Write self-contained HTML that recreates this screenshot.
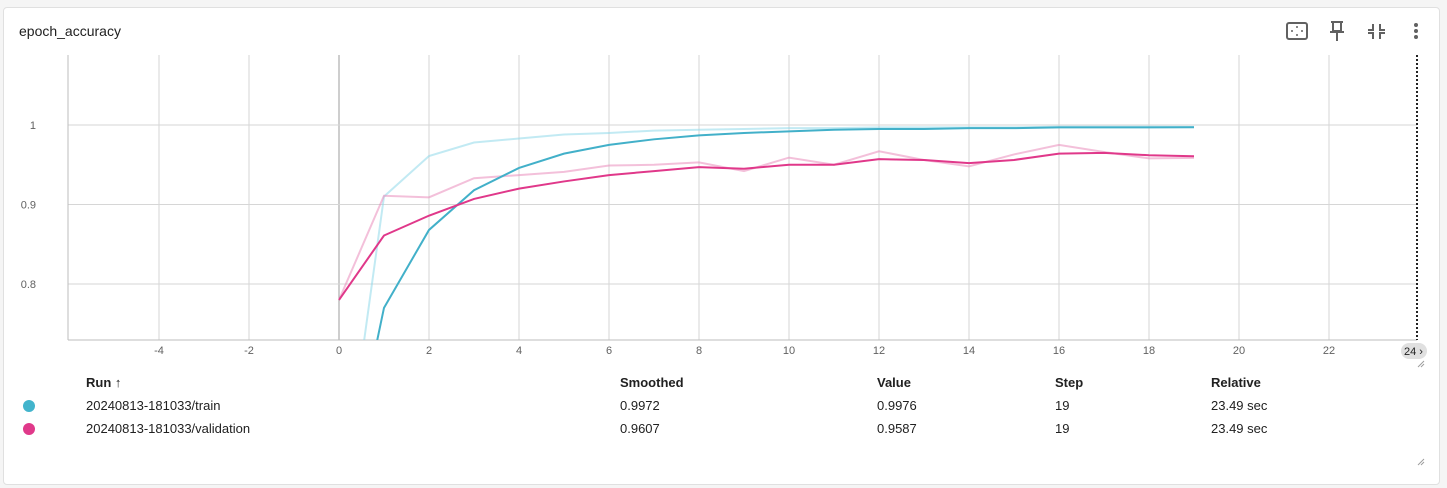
<!DOCTYPE html>
<html style="overflow:hidden"><head><meta charset="utf-8"><style>
*{box-sizing:border-box}
html,body{margin:0;width:1447px;height:488px;overflow:hidden}
body{background:#f5f5f5;font-family:"Liberation Sans",sans-serif;position:relative}
.card{position:absolute;left:3px;top:7px;width:1437px;height:478px;background:#fff;border:1px solid #e0e0e0;border-radius:4px}
.t{position:absolute;font-size:13px;color:#212121}
.h{font-weight:bold}
</style></head><body>
<div class="card"></div>
<div class="t" style="left:19px;top:23px;font-size:14px">epoch_accuracy</div>
<svg style="position:absolute;left:0;top:0" width="1447" height="488">
<g><rect x="1287" y="23" width="20" height="16" rx="2" fill="none" stroke="#616161" stroke-width="2"/><path d="M1297 26v2M1297 34v2M1291 31h2M1301 31h2" stroke="#616161" stroke-width="1.5"/></g>
<g><path d="M1331 22h12M1333 22v9h8v-9M1330 32h14M1337 32v9" stroke="#616161" stroke-width="2" fill="none"/></g>
<g><path d="M1373 24v6h-5M1380 24v6h5M1373 39v-6h-5M1380 39v-6h5" stroke="#616161" stroke-width="2" fill="none"/></g>
<g fill="#616161"><circle cx="1416" cy="25" r="2"/><circle cx="1416" cy="31" r="2"/><circle cx="1416" cy="37" r="2"/></g>
<path d="M1418 465l6-6M1421 465l3-3" stroke="#9e9e9e"/>
<path d="M1418 367l6-6M1421 367l3-3" stroke="#9e9e9e"/>
</svg>
<svg id="chart" style="position:absolute;left:0;top:0" width="1447" height="488"></svg>
<div class="t h" style="left:86px;top:375px">Run ↑</div>
<div class="t h" style="left:620px;top:375px">Smoothed</div>
<div class="t h" style="left:877px;top:375px">Value</div>
<div class="t h" style="left:1055px;top:375px">Step</div>
<div class="t h" style="left:1211px;top:375px">Relative</div>
<div style="position:absolute;left:23px;top:400px;width:12px;height:12px;border-radius:50%;background:#42b4cc"></div>
<div class="t" style="left:86px;top:398px">20240813-181033/train</div>
<div class="t" style="left:620px;top:398px">0.9972</div>
<div class="t" style="left:877px;top:398px">0.9976</div>
<div class="t" style="left:1055px;top:398px">19</div>
<div class="t" style="left:1211px;top:398px">23.49 sec</div>
<div style="position:absolute;left:23px;top:423px;width:12px;height:12px;border-radius:50%;background:#e0398a"></div>
<div class="t" style="left:86px;top:421px">20240813-181033/validation</div>
<div class="t" style="left:620px;top:421px">0.9607</div>
<div class="t" style="left:877px;top:421px">0.9587</div>
<div class="t" style="left:1055px;top:421px">19</div>
<div class="t" style="left:1211px;top:421px">23.49 sec</div>
<script>
const steps=[0,1,2,3,4,5,6,7,8,9,10,11,12,13,14,15,16,17,18,19];
const trainRaw=[0.50,0.910,0.961,0.978,0.983,0.988,0.990,0.993,0.994,0.995,0.996,0.996,0.997,0.997,0.997,0.997,0.998,0.998,0.998,0.9976];
const trainSmooth=[0.50,0.770,0.868,0.918,0.946,0.964,0.975,0.982,0.987,0.990,0.992,0.994,0.995,0.995,0.996,0.996,0.997,0.997,0.997,0.9972];
const valRaw=[0.78,0.911,0.909,0.933,0.937,0.941,0.949,0.950,0.953,0.942,0.959,0.950,0.967,0.956,0.948,0.963,0.975,0.966,0.958,0.9587];
const valSmooth=[0.78,0.861,0.886,0.907,0.920,0.929,0.937,0.942,0.947,0.945,0.950,0.950,0.957,0.956,0.952,0.956,0.964,0.965,0.962,0.9607];
const xTicks=[-4,-2,0,2,4,6,8,10,12,14,16,18,20,22];
const yTicks=[0.8,0.9,1];
const NS="http://www.w3.org/2000/svg";
const svg=document.getElementById('chart');
const X0=68,X1=1417,Y0=55,Y1=340;
const xs=v=>339+v*45, ys=v=>284-(v-0.8)*795;
function el(t,a,p){const e=document.createElementNS(NS,t);for(const k in a)e.setAttribute(k,a[k]);(p||svg).appendChild(e);return e;}
const cp=el('clipPath',{id:'cp'});el('rect',{x:X0,y:Y0,width:X1-X0,height:Y1-Y0},cp);
xTicks.forEach(v=>{const l=el('line',{x1:xs(v),x2:xs(v),y1:Y0,y2:Y1,stroke:v===0?'#9e9e9e':'#d6d6d6'});


const t=el('text',{x:xs(v),y:354,'font-size':11,'text-anchor':'middle',fill:'#616161'});t.textContent=v;

});
yTicks.forEach(v=>{const l=el('line',{x1:X0,x2:X1,y1:ys(v),y2:ys(v),stroke:'#d6d6d6'});


const t=el('text',{x:36,y:ys(v)+4,'font-size':11,'text-anchor':'end',fill:'#616161'});t.textContent=v;

});
el('line',{x1:X0,x2:X0,y1:Y0,y2:Y1,stroke:'#bdbdbd'});
el('line',{x1:X0,x2:X1,y1:Y1,y2:Y1,stroke:'#bdbdbd'});
el('line',{x1:X1,x2:X1,y1:Y0,y2:Y1,stroke:'#222','stroke-dasharray':'2,2','stroke-width':2});
el('rect',{x:1401,y:343,width:26,height:16,rx:8,fill:'#e0e0e0'});
const xt=el('text',{x:1404,y:355,'font-size':11,fill:'#212121'});xt.textContent='24 ›';
function line(d,c,op,name){const p=el('polyline',{points:steps.map((s,i)=>xs(s)+','+ys(d[i])).join(' '),fill:'none',stroke:c,'stroke-opacity':op,'stroke-width':2,'clip-path':'url(#cp)'});

}
line(trainRaw,'#8fd8ea',0.55,'train-raw-line');
line(valRaw,'#ea8cbc',0.55,'validation-raw-line');
line(trainSmooth,'#42b0c9',1,'train-smoothed-line');
line(valSmooth,'#e0388a',1,'validation-smoothed-line');
</script>
</body></html>
